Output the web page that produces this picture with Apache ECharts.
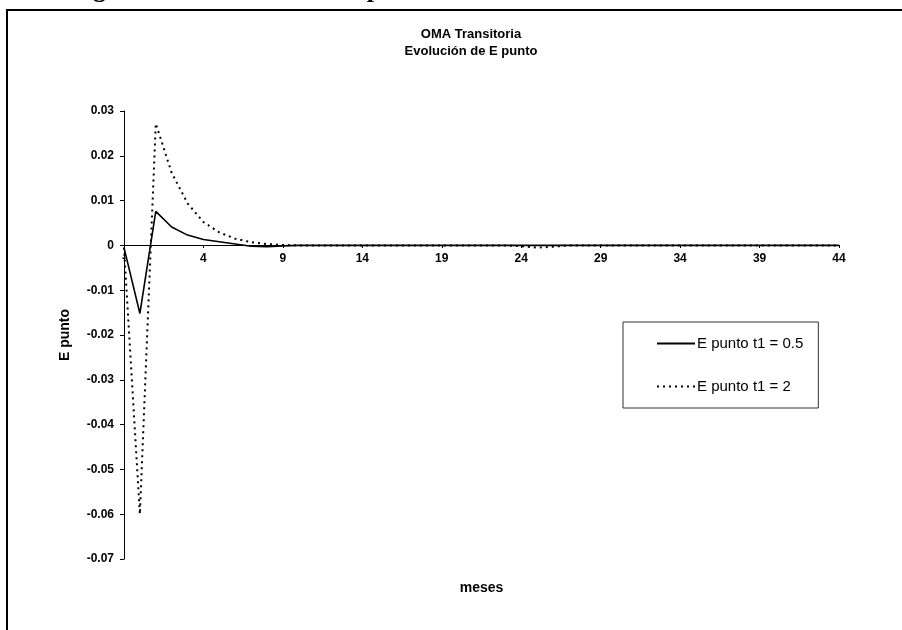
<!DOCTYPE html>
<html>
<head>
<meta charset="utf-8">
<script src="https://cdn.jsdelivr.net/npm/echarts@6/dist/echarts.min.js"></script>
<style>
  html, body { margin: 0; padding: 0; background: #fff; }
  #main { width: 902px; height: 630px; }
</style>
</head>
<body>
<div id="main"></div>
<script>
// meses (categorias del eje x)
var meses = [-1, 0, 1, 2, 3, 4, 5, 6, 7, 8, 9, 10, 11, 12, 13, 14, 15, 16, 17, 18, 19, 20,
  21, 22, 23, 24, 25, 26, 27, 28, 29, 30, 31, 32, 33, 34, 35, 36, 37, 38, 39, 40, 41, 42, 43, 44];

// E punto t1 = 0.5 (linea continua)
var ePuntoT05 = [-0.0005, -0.0152, 0.0076, 0.0041, 0.0023, 0.0013, 0.0008, 0.0003, -0.0002, -0.0003,
  -0.0001, 0, 0, 0, 0, 0, 0, 0, 0, 0, 0, 0, 0, 0, 0, 0, 0, 0, 0, 0, 0, 0, 0, 0, 0, 0, 0, 0, 0, 0,
  0, 0, 0, 0, 0, 0];

// E punto t1 = 2 (linea punteada)
var ePuntoT2 = [-0.0005, -0.0600, 0.0272, 0.0162, 0.0094, 0.0052, 0.0029, 0.0015, 0.0007, 0.0003,
  0.0001, 0, 0, 0, 0, 0, 0, 0, 0, 0, 0, 0, 0, 0, 0, -0.0002, -0.0005, -0.0003, 0, 0, 0, 0, 0, 0, 0,
  0, 0, 0, 0, 0, 0, 0, 0, 0, 0, 0];

var legendNames = ['E punto t1 = 0.5', 'E punto t1 = 2'];

var font = "'Liberation Sans', Arial, sans-serif";
var chart = echarts.init(document.getElementById('main'), null, { renderer: 'canvas' });

chart.setOption({
  animation: false,
  backgroundColor: '#fff',
  title: {
    text: 'OMA Transitoria\nEvolución de E punto',
    left: 466,
    textAlign: 'center',
    top: 21,
    textStyle: {
      fontFamily: font,
      fontSize: 13,
      fontWeight: 'bold',
      color: '#000',
      lineHeight: 17
    }
  },
  // marco del grafico y texto cortado arriba
  graphic: [
    {
      type: 'rect',
      shape: { x: 7, y: 10, width: 1000, height: 1000 },
      style: { fill: 'none', stroke: '#000', lineWidth: 2 },
      silent: true
    },
    {
      type: 'text',
      x: 70,
      y: 3,
      style: {
        text: 'Figura 12: Evolución de E punto',
        font: 'bold 26px "Liberation Serif", serif',
        fill: '#000',
        verticalAlign: 'bottom'
      },
      silent: true
    }
  ],
  legend: {
    orient: 'vertical',
    left: 623,
    top: 322,
    padding: [14, 15, 14, 34],
    itemGap: 28,
    itemWidth: 38,
    itemHeight: 14,
    borderColor: '#333',
    borderWidth: 1,
    data: [
      { name: legendNames[0], icon: 'path://M0,6L38,6L38,8L0,8Z' },
      { name: legendNames[1], icon: 'path://M0,6L2,6L2,8L0,8Z M6,6L8,6L8,8L6,8Z M12,6L14,6L14,8L12,8Z M18,6L20,6L20,8L18,8Z M24,6L26,6L26,8L24,8Z M30,6L32,6L32,8L30,8Z M36,6L38,6L38,8L36,8Z' }
    ],
    textStyle: {
      fontFamily: font,
      fontSize: 15,
      color: '#000',
      padding: [0, 0, 0, -3]
    }
  },
  grid: {
    left: 124,
    right: 63,
    top: 111,
    bottom: 71,
    outerBoundsMode: 'none',
    containLabel: false
  },
  xAxis: {
    type: 'category',
    data: meses,
    boundaryGap: false,
    // eje x sobre el cero (0 queda a 314px del borde inferior del grid)
    offset: -314,
    name: 'meses',
    nameLocation: 'middle',
    nameGap: 336,
    nameTextStyle: {
      fontFamily: font,
      fontSize: 14,
      fontWeight: 'bold',
      color: '#000'
    },
    axisLine: {
      onZero: false,
      lineStyle: { color: '#000', width: 1 }
    },
    axisTick: {
      show: true,
      interval: 4,
      length: 3,
      lineStyle: { color: '#000' }
    },
    axisLabel: {
      interval: 4,
      margin: 8,
      fontFamily: font,
      fontSize: 12,
      fontWeight: 'bold',
      color: '#000',
      formatter: function (v) {
        return v == -1 ? '-' : v;
      }
    },
    splitLine: { show: false }
  },
  yAxis: {
    type: 'value',
    min: -0.07,
    max: 0.03,
    interval: 0.01,
    name: 'E punto',
    nameLocation: 'middle',
    nameGap: 52,
    nameTextStyle: {
      fontFamily: font,
      fontSize: 14,
      fontWeight: 'bold',
      color: '#000'
    },
    axisLine: {
      show: true,
      lineStyle: { color: '#000', width: 1 }
    },
    axisTick: {
      show: true,
      length: 4,
      lineStyle: { color: '#000' }
    },
    axisLabel: {
      margin: 10,
      fontFamily: font,
      fontSize: 12,
      fontWeight: 'bold',
      color: '#000',
      formatter: function (v) {
        return Math.abs(v) < 1e-9 ? '0' : (+v.toFixed(2)).toString();
      }
    },
    splitLine: { show: false }
  },
  series: [
    {
      name: legendNames[0],
      type: 'line',
      data: ePuntoT05,
      symbol: 'none',
      lineStyle: { color: '#000', width: 1.6, type: 'solid' },
      itemStyle: { color: '#000' },
      z: 3
    },
    {
      name: legendNames[1],
      type: 'line',
      data: ePuntoT2,
      symbol: 'none',
      lineStyle: { color: '#000', width: 2, type: [2, 4] },
      itemStyle: { color: '#000' },
      z: 2
    }
  ]
});
</script>
</body>
</html>
